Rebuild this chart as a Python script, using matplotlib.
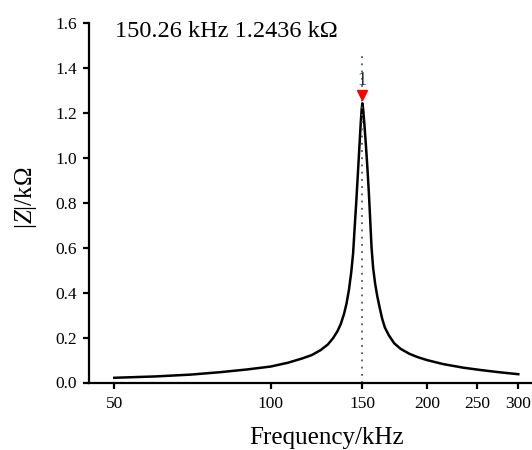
import matplotlib
matplotlib.use("Agg")
import matplotlib.pyplot as plt
from matplotlib.transforms import offset_copy
from matplotlib.ticker import FixedLocator, NullLocator

# Data
freq_khz = [50, 60, 70, 80, 90, 100, 108, 115, 120, 125, 129, 132, 134.5, 136.5,
            138.5, 140, 141.5, 143, 144.2, 145.2, 146.2, 147.2, 148.2, 149.2,
            149.8, 150.26, 150.8, 151.6, 152.6, 153.6, 154.6, 155.6, 156.5,
            157.6, 159, 160.5, 162, 164, 166, 169, 173, 178, 185, 192, 200,
            215, 235, 255, 275, 300]
z_kohm = [0.021, 0.027, 0.035, 0.046, 0.058, 0.071, 0.088, 0.107, 0.122, 0.145,
          0.170, 0.198, 0.228, 0.260, 0.305, 0.350, 0.410, 0.490, 0.575, 0.690,
          0.800, 0.920, 1.040, 1.160, 1.220, 1.2436, 1.215, 1.150, 1.060, 0.960,
          0.850, 0.720, 0.600, 0.510, 0.440, 0.385, 0.340, 0.285, 0.245, 0.210,
          0.175, 0.150, 0.128, 0.113, 0.100, 0.082, 0.066, 0.055, 0.046, 0.037]
peak_f = 150.26
peak_z = 1.2436
x_ticks = [50, 100, 150, 200, 250, 300]
x_ticklabels = ["50", "100", "150", "200", "250", "300"]
y_ticks = [0.0, 0.2, 0.4, 0.6, 0.8, 1.0, 1.2, 1.4, 1.6]
annotation = "150.26 kHz 1.2436 k\u03a9"

plt.rcParams["font.family"] = ["Liberation Serif", "DejaVu Serif"]
plt.rcParams["mathtext.fontset"] = "custom"
plt.rcParams["mathtext.rm"] = "Liberation Serif"
plt.rcParams["mathtext.it"] = "Liberation Serif:italic"

fig = plt.figure(figsize=(5.32, 4.5), dpi=100)
ax = fig.add_axes([89/532, 1-382.5/450, 1-89/532, (382.5-23.3)/450])

ax.plot(freq_khz, z_kohm, color="black", lw=1.8, solid_joinstyle="round")
ax.vlines(peak_f, 0, 1.47, colors="#555555", linestyles=(0, (1, 3)), lw=1.3)
tr = offset_copy(ax.transData, fig=fig, x=0, y=6, units="points")
ax.plot([peak_f], [peak_z], marker="v", color="red", markersize=7.5, transform=tr, clip_on=False)
ax.text(peak_f, 1.345, "1", ha="center", va="center", fontsize=13, color="#1f2d3d")

ax.set_xscale("log")
ax.set_xlim(44.7, 318.8)
ax.set_ylim(0, 1.6)
ax.xaxis.set_major_locator(FixedLocator(x_ticks))
ax.xaxis.set_minor_locator(NullLocator())
ax.set_xticklabels(x_ticklabels)
ax.set_yticks(y_ticks)
ax.set_yticklabels([f"{v:.1f}" for v in y_ticks])

for s in ["top", "right"]:
    ax.spines[s].set_visible(False)
for s in ["left", "bottom"]:
    ax.spines[s].set_linewidth(1.6)
ax.tick_params(axis="both", direction="out", length=4, width=1.6, labelsize=12.5)
ax.tick_params(axis="x", pad=6)
ax.tick_params(axis="y", pad=4.5)

ax.set_xlabel("Frequency/kHz", fontsize=18)
ax.xaxis.set_label_coords((327-89)/443, -(438-382.5)/359.2)
ax.xaxis.label.set_va("center")
ax.set_ylabel("|$Z$|/k\u03a9", fontsize=18)
ax.yaxis.set_label_coords(-(89-26)/443, (382.5-198)/359.2)
ax.yaxis.label.set_va("center")

fig.text(115/532, 1-31.5/450, annotation, fontsize=17.5, ha="left", va="center")

fig.savefig("out.png", dpi=100)
